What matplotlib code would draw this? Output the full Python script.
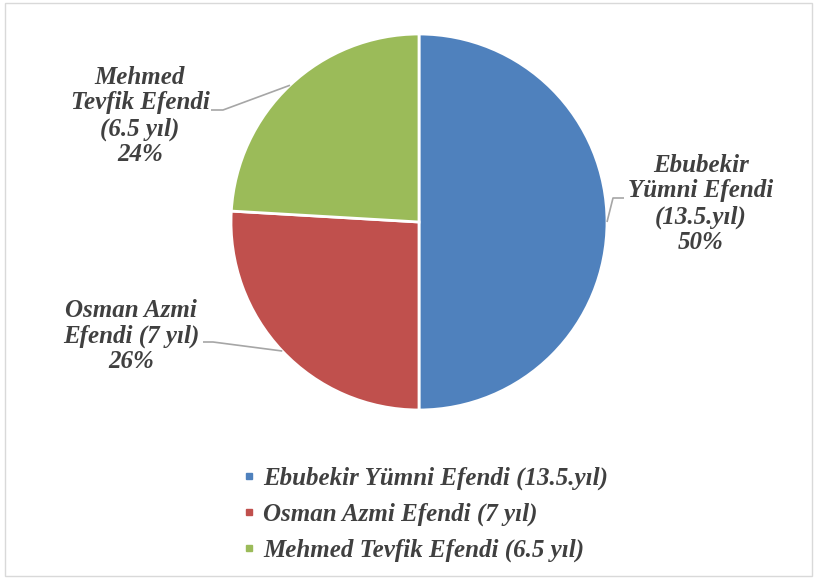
import numpy as np
import matplotlib
matplotlib.use("Agg")
import matplotlib.pyplot as plt
from matplotlib.lines import Line2D
from matplotlib.patches import Rectangle

# ---- data ----
names = ["Ebubekir Yümni Efendi", "Osman Azmi Efendi", "Mehmed Tevfik Efendi"]
years = [13.5, 7, 6.5]
legend_labels = ["Ebubekir Yümni Efendi (13.5.yıl)",
                 "Osman Azmi Efendi (7 yıl)",
                 "Mehmed Tevfik Efendi (6.5 yıl)"]
slice_labels = ["Ebubekir\nYümni Efendi\n(13.5.yıl)",
                "Osman Azmi\nEfendi (7 yıl)",
                "Mehmed\nTevfik Efendi\n(6.5 yıl)"]
colors = ["#4f81bd", "#c0504d", "#9bbb59"]

W, H = 818, 579
fig = plt.figure(figsize=(W / 100, H / 100), dpi=100)
ax = fig.add_axes([0, 0, 1, 1])

cx, cy, R = 419, H - 222, 188
wedges, _ = ax.pie(years, colors=colors, startangle=90, counterclock=False,
                   center=(cx, cy), radius=R,
                   wedgeprops=dict(edgecolor="white", linewidth=2))
ax.set_xlim(0, W)
ax.set_ylim(0, H)
ax.set_aspect("equal")
ax.axis("off")

total = sum(years)
txtcol = "#404040"
FS = 18
font = dict(family="Liberation Serif", weight="bold", style="italic",
            size=FS, color=txtcol)

# label placements (text centres, elbow points) in pixels
text_pos = [(701, H - 204), (131, H - 336), (140, H - 116)]
elbow = [((613, H - 198), (624, H - 198)),
         ((213, H - 342), (203, H - 342)),
         ((223, H - 110), (211, H - 110))]

for w, lab, v, tp, (e1, e2) in zip(wedges, slice_labels, years, text_pos, elbow):
    ang = np.deg2rad((w.theta1 + w.theta2) / 2)
    px, py = cx + R * np.cos(ang), cy + R * np.sin(ang)
    ax.plot([px, e1[0], e2[0]], [py, e1[1], e2[1]], color="#a6a6a6", lw=1.2,
            solid_capstyle="butt")
    pct = f"{100 * v / total:.0f}%"
    ax.text(tp[0], tp[1], lab + "\n" + pct, ha="center", va="center",
            linespacing=1.15, **font)

handles = [Line2D([], [], marker="s", color=c, linestyle="none", markersize=5)
           for c in colors]
leg = fig.legend(handles, legend_labels, loc="upper left",
                 bbox_to_anchor=(222 / W, 1 - 444 / H), frameon=False,
                 prop=dict(family="Liberation Serif", weight="bold",
                           style="italic", size=FS),
                 handlelength=0.4, handletextpad=0.35, labelspacing=0.5)
for t in leg.get_texts():
    t.set_color(txtcol)

fig.patches.append(Rectangle((5 / W, 3 / H), 807 / W, 573 / H,
                             transform=fig.transFigure, fill=False,
                             edgecolor="#d9d9d9", linewidth=1))

fig.savefig("out.png", dpi=100, facecolor="white")
